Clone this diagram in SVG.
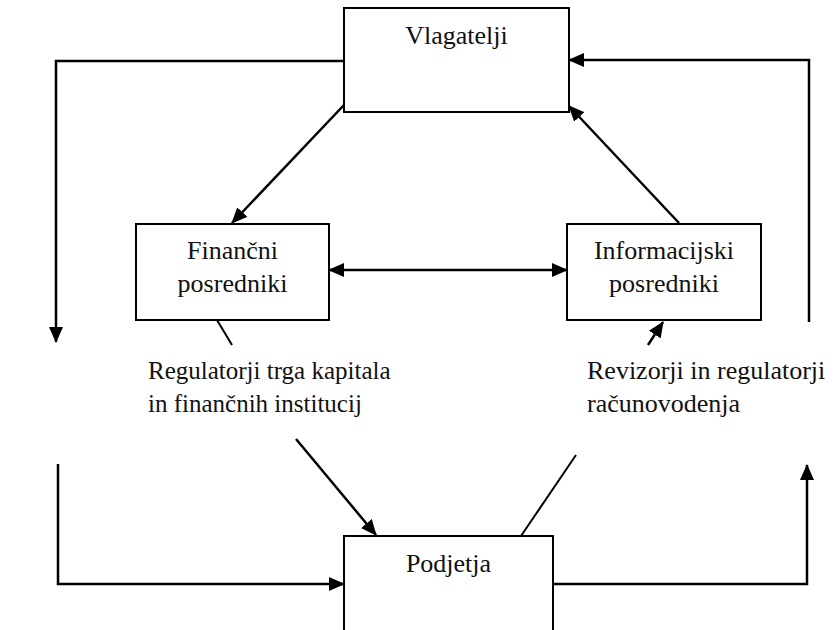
<svg xmlns="http://www.w3.org/2000/svg" width="835" height="630" viewBox="0 0 835 630">
<style>
.box{fill:#fff;stroke:#000;stroke-width:2}
.t{font-family:"Liberation Serif","Times New Roman",serif;font-size:26px;fill:#111}
.s{font-size:25px}
.c{text-anchor:middle}
.ln{fill:none;stroke:#000;stroke-width:2.5}
.thin{fill:none;stroke:#000;stroke-width:2}
</style>
<defs>
<marker id="ah" markerUnits="userSpaceOnUse" markerWidth="16" markerHeight="14" refX="15" refY="7" orient="auto-start-reverse" viewBox="0 0 16 14">
<path d="M0,0 L16,7 L0,14 z" fill="#000"/>
</marker>
</defs>
<rect width="835" height="630" fill="#fff"/>
<g id="connectors">
<path class="ln" d="M344,61 H56 V342" marker-end="url(#ah)"/>
<path class="ln" d="M809,322 V60 H569" marker-end="url(#ah)"/>
<path class="ln" d="M58,464 V584 H344" marker-end="url(#ah)"/>
<path class="ln" d="M553,584 H807 V465" marker-end="url(#ah)"/>
<line class="ln" x1="344" y1="105" x2="232" y2="223" marker-end="url(#ah)"/>
<line class="ln" x1="679" y1="223" x2="569" y2="106" marker-end="url(#ah)"/>
<line class="ln" x1="329" y1="270" x2="567" y2="270" marker-start="url(#ah)" marker-end="url(#ah)"/>
<line class="thin" x1="217" y1="320" x2="232" y2="345"/>
<line class="ln" x1="296" y1="439" x2="376" y2="535" marker-end="url(#ah)"/>
<line class="thin" x1="521" y1="536" x2="576" y2="455"/>
<line class="ln" x1="648" y1="345" x2="663" y2="322" marker-end="url(#ah)"/>
</g>
<g id="vlagatelji">
<rect class="box" x="344" y="8" width="225" height="104"/>
<text class="t c" x="456.5" y="44">Vlagatelji</text>
</g>
<g id="financni">
<rect class="box" x="136" y="224" width="193" height="96"/>
<text class="t c" x="232.5" y="259">Finančni</text>
<text class="t c" x="232.5" y="292">posredniki</text>
</g>
<g id="informacijski">
<rect class="box" x="567" y="224" width="194" height="96"/>
<text class="t c" x="664" y="259">Informacijski</text>
<text class="t c" x="664" y="292">posredniki</text>
</g>
<g id="podjetja">
<rect class="box" x="344" y="536" width="209" height="110"/>
<text class="t c" x="448.5" y="572">Podjetja</text>
</g>
<g id="regulatorji">
<text class="t s" x="148" y="379">Regulatorji trga kapitala</text>
<text class="t s" x="148" y="412">in finančnih institucij</text>
</g>
<g id="revizorji">
<text class="t" x="587" y="379">Revizorji in regulatorji</text>
<text class="t" x="587" y="412">računovodenja</text>
</g>
</svg>
